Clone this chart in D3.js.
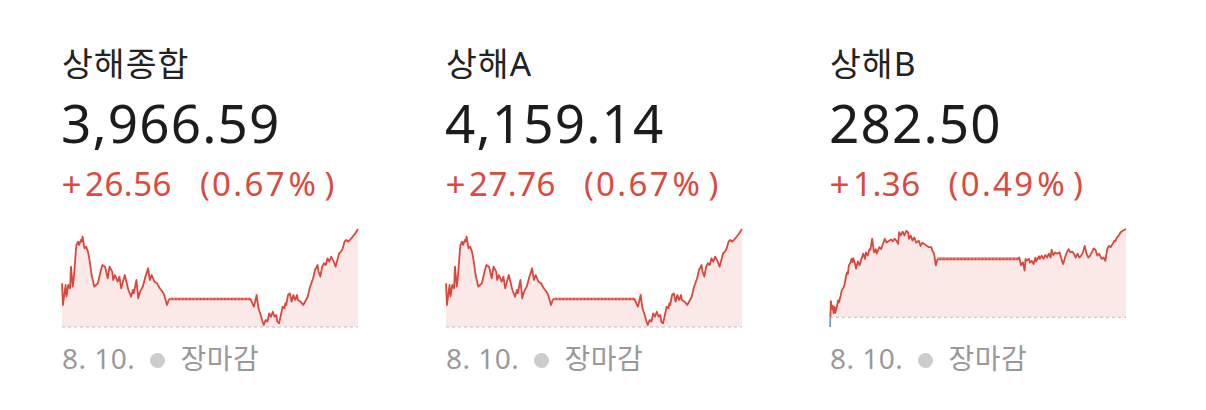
<!DOCTYPE html>
<html><head><meta charset="utf-8">
<script src="https://cdn.jsdelivr.net/npm/d3@7"></script>
<style>
html,body{margin:0;padding:0;background:#fff;}
svg{display:block;}
</style></head><body>
<svg id="chart" width="1206" height="410"></svg>
<script>
// ---------- data ----------
const titles = ["상해종합", "상해A", "상해B"];
const priceLabels = ["3,966.59", "4,159.14", "282.50"];
const changeLabels = ["+26.56", "+27.76", "+1.36"];
const changePctLabels = ["(0.67%)", "(0.67%)", "(0.49%)"];
const prevCloses = [3940.03, 4131.38, 281.14];
const dateLabel = "8. 10.";
const statusLabel = "장마감";

// intraday times shared by 상해종합 and 상해A
const timesAB = [
"09:30","09:31","09:34","09:35","09:37","09:39","09:40","09:42","09:43","09:46",
"09:48","09:49","09:51","09:52","09:53","09:55","09:57","09:59","10:01","10:03",
"10:06","10:08","10:10","10:13","10:15","10:18","10:21","10:23","10:26","10:27",
"10:29","10:32","10:34","10:36","10:40","10:44","10:47","10:49","10:50","10:53",
"10:55","10:57","11:00","11:03","11:06","11:08","11:10","11:13","11:16","11:19",
"11:22","11:24","11:27","11:29","11:30",
"13:00","13:04","13:07","13:09","13:11","13:13","13:15","13:17","13:19","13:21",
"13:23","13:25","13:27","13:29","13:30","13:32","13:34","13:36","13:38","13:39",
"13:40","13:42","13:44","13:46","13:48","13:50","13:52","13:53","13:56","13:59",
"14:02","14:04","14:06","14:08","14:10","14:12","14:15","14:16","14:18","14:20",
"14:22","14:24","14:26","14:28","14:30","14:31","14:33","14:35","14:37","14:39",
"14:41","14:43","14:45","14:47","14:49","14:51","14:54","14:57","15:00"];

const compositeValues = [
3951.87,3945.99,3951.41,3948.24,3951.41,3950.52,3956.37,3950.95,3952.77,3962.25,
3963.15,3962.25,3963.61,3963.15,3964.50,3961.36,3961.79,3960.44,3957.73,3954.12,
3950.95,3951.41,3951.87,3955.02,3956.83,3956.37,3953.23,3956.37,3955.02,3952.77,
3954.12,3952.31,3953.66,3950.52,3954.12,3950.06,3948.24,3950.06,3949.16,3952.77,
3947.81,3949.60,3950.95,3953.66,3955.94,3952.77,3954.12,3952.31,3951.87,3950.52,
3949.60,3948.70,3945.99,3947.35,3947.62,
3947.62,3945.53,3948.70,3945.10,3943.74,3941.93,3940.57,3941.93,3941.47,3943.74,
3942.82,3944.18,3942.82,3943.28,3941.47,3941.03,3943.28,3945.53,3945.10,3946.45,
3945.99,3948.70,3949.16,3946.89,3948.70,3947.35,3948.70,3947.35,3946.89,3945.99,
3947.35,3948.24,3950.52,3951.87,3953.23,3955.48,3956.83,3955.02,3953.66,3956.37,
3957.29,3956.83,3958.65,3957.73,3959.08,3958.65,3957.73,3956.37,3958.19,3960.00,
3960.44,3961.36,3963.15,3963.61,3963.15,3963.61,3964.50,3965.42,3966.59];

const aShareValues = [
4143.76,4137.61,4143.28,4139.96,4143.28,4142.34,4148.46,4142.80,4144.70,4154.61,
4155.55,4154.61,4156.03,4155.55,4156.96,4153.68,4154.13,4152.71,4149.88,4146.11,
4142.80,4143.28,4143.76,4147.05,4148.94,4148.46,4145.18,4148.46,4147.05,4144.70,
4146.11,4144.21,4145.63,4142.34,4146.11,4141.86,4139.96,4141.86,4140.93,4144.70,
4139.51,4141.38,4142.80,4145.63,4148.01,4144.70,4146.11,4144.21,4143.76,4142.34,
4141.38,4140.45,4137.61,4139.03,4139.31,
4139.31,4137.13,4140.45,4136.68,4135.26,4133.36,4131.95,4133.36,4132.88,4135.26,
4134.30,4135.71,4134.30,4134.78,4132.88,4132.43,4134.78,4137.13,4136.68,4138.09,
4137.61,4140.45,4140.93,4138.55,4140.45,4139.03,4140.45,4139.03,4138.55,4137.61,
4139.03,4139.96,4142.34,4143.76,4145.18,4147.53,4148.94,4147.05,4145.63,4148.46,
4149.43,4148.94,4150.84,4149.88,4151.30,4150.84,4149.88,4148.46,4150.36,4152.26,
4152.71,4153.68,4155.55,4156.03,4155.55,4156.03,4156.96,4157.93,4159.14];

const timesB = [
"09:30","09:31","09:32","09:33","09:34","09:35","09:36","09:38","09:39","09:40",
"09:42","09:43","09:45","09:46","09:48","09:49","09:50","09:51","09:53","09:54",
"09:55","09:56","09:58","09:59","10:01","10:03","10:05","10:07","10:09","10:10",
"10:12","10:14","10:15","10:17","10:19","10:21","10:22","10:25","10:27","10:29",
"10:31","10:33","10:36","10:38","10:40","10:42","10:44","10:46","10:47","10:49",
"10:51","10:53","10:55","10:57","10:58","11:00","11:02","11:04","11:06","11:09",
"11:11","11:13","11:15","11:18","11:20","11:23","11:24","11:26","11:28","11:30",
"13:00","13:01","13:03","13:05","13:07","13:08","13:09","13:12","13:13","13:15",
"13:17","13:19","13:20","13:23","13:24","13:26","13:28","13:30","13:32","13:34",
"13:36","13:37","13:39","13:41","13:43","13:46","13:47","13:49","13:50","13:52",
"13:54","13:56","13:58","14:00","14:02","14:04","14:06","14:08","14:10","14:12",
"14:14","14:16","14:18","14:20","14:23","14:24","14:26","14:28","14:30","14:33",
"14:35","14:37","14:39","14:41","14:43","14:45","14:47","14:48","14:50","14:52",
"14:54","14:56","15:00"];

const bShareValues = [
280.99,281.39,281.27,281.32,281.20,281.30,281.21,281.32,281.40,281.37,
281.48,281.55,281.60,281.63,281.78,281.83,281.81,281.94,281.99,282.04,
281.99,282.05,281.96,281.89,282.00,281.94,282.04,282.12,282.04,282.14,
282.09,282.19,282.18,282.35,282.14,282.19,282.12,282.22,282.19,282.27,
282.35,282.29,282.32,282.34,282.31,282.35,282.32,282.27,282.45,282.40,
282.46,282.40,282.47,282.45,282.35,282.40,282.32,282.37,282.29,282.32,
282.24,282.29,282.27,282.24,282.22,282.22,282.17,282.12,281.94,282.04,
282.04,282.06,281.94,281.99,281.86,282.04,282.01,282.04,281.98,282.01,
281.96,282.06,282.00,282.08,282.04,282.09,282.04,282.10,282.06,282.12,
282.06,282.18,282.10,282.14,282.12,282.14,282.09,281.99,281.96,282.06,
282.14,282.19,282.14,282.15,282.12,282.06,282.12,282.06,282.09,282.14,
282.24,282.12,282.06,282.09,282.17,282.20,282.18,282.09,282.12,282.04,
282.06,282.01,282.19,282.24,282.22,282.27,282.32,282.31,282.37,282.40,
282.45,282.47,282.50];

const seriesTimes = [timesAB, timesAB, timesB];
const seriesValues = [compositeValues, aShareValues, bShareValues];

// ---------- layout / style ----------
const colLeft = [62, 446, 830];
const plotW = 296, plotTop = 229, plotBottom = 327;
const upColor = "#d9483d", upFill = "#fbe9e7";
const downColor = "#6f9be0", downFill = "#e6eefb";
const font = "'Noto Sans', 'Noto Sans CJK KR', sans-serif";

const svg = d3.select("#chart");
const toMin = s => { const [h, m] = s.split(":").map(Number); return h * 60 + m - 570; };
const x = d3.scaleLinear().domain([0, 330]).range([0, plotW]);

titles.forEach((title, i) => {
  const g = svg.append("g").attr("transform", `translate(${colLeft[i]},0)`);

  g.append("text").attr("x", 0).attr("y", 75.5).attr("font-family", font)
    .attr("font-size", 33.5).attr("letter-spacing", 1).attr("fill", "#222").text(title);
  g.append("text").attr("x", -1).attr("y", 143).attr("font-family", font)
    .attr("font-size", 53).attr("letter-spacing", 1.15).attr("fill", "#1c1c1c").text(priceLabels[i]);

  // change line: sign, number, then percentage in parentheses
  const ch = g.append("text").attr("x", -0.5).attr("y", 196).attr("font-family", font)
    .attr("font-size", 33).attr("fill", "#d94b3f");
  const lab = changeLabels[i];
  ch.append("tspan").attr("font-size", 35).attr("dy", 0.5).text(lab[0]);
  ch.append("tspan").attr("dx", 3.5).attr("dy", -0.5).attr("letter-spacing", 0.5).text(lab.slice(1));
  const pct = changePctLabels[i];
  pct.split("").forEach((c, k) => {
    let dx = k === 0 ? 28 : 2.3;
    if (c === "%") dx = 4;
    if (c === ")") dx = 8.5;
    ch.append("tspan").attr("dx", dx).text(c);
  });

  // footer
  g.append("text").attr("x", 0).attr("y", 369).attr("font-family", font)
    .attr("font-size", 28).attr("letter-spacing", 0.5).attr("fill", "#999").text(dateLabel);
  g.append("circle").attr("cx", 95.5).attr("cy", 360.5).attr("r", 7.5).attr("fill", "#ccc");
  g.append("text").attr("x", 118.5).attr("y", 369).attr("font-family", font)
    .attr("font-size", 28).attr("letter-spacing", 0.5).attr("fill", "#999").text(statusLabel);

  // sparkline
  const pts = seriesTimes[i].map((t, j) => ({ t: toMin(t), v: seriesValues[i][j] }));
  const prev = prevCloses[i];
  const y = d3.scaleLinear()
    .domain(d3.extent([...seriesValues[i], prev]))
    .range([plotBottom, plotTop]);
  const by = y(prev);

  const idUp = `clipUp${i}`, idDn = `clipDn${i}`;
  const defs = g.append("defs");
  defs.append("clipPath").attr("id", idUp).append("rect")
    .attr("x", -2).attr("y", 0).attr("width", plotW + 4).attr("height", by);
  defs.append("clipPath").attr("id", idDn).append("rect")
    .attr("x", -2).attr("y", by).attr("width", plotW + 4).attr("height", 60);

  const area = d3.area().x(d => x(d.t)).y0(by).y1(d => y(d.v));
  const line = d3.line().x(d => x(d.t)).y(d => y(d.v));

  g.append("path").datum(pts).attr("d", area).attr("fill", upFill)
    .attr("clip-path", `url(#${idUp})`);
  g.append("path").datum(pts).attr("d", area).attr("fill", downFill)
    .attr("clip-path", `url(#${idDn})`);

  // baseline (previous close)
  g.append("line").attr("x1", 0).attr("x2", plotW).attr("y1", by).attr("y2", by)
    .attr("stroke", "#bdbdbd").attr("stroke-width", 1.2).attr("stroke-dasharray", "3,3");

  g.append("path").datum(pts).attr("d", line).attr("fill", "none")
    .attr("stroke", upColor).attr("stroke-width", 1.8).attr("stroke-linejoin", "round")
    .attr("clip-path", `url(#${idUp})`);
  g.append("path").datum(pts).attr("d", line).attr("fill", "none")
    .attr("stroke", downColor).attr("stroke-width", 1.8).attr("stroke-linejoin", "round")
    .attr("clip-path", `url(#${idDn})`);

  // lunch break segment (11:30 - 13:00)
  const lunch = pts.filter(d => d.t === 120 || d.t === 210);
  if (lunch.length === 2) {
    g.append("path").datum(lunch).attr("d", line).attr("fill", "none")
      .attr("stroke", upColor).attr("stroke-width", 2.6);
    g.append("path").datum(lunch).attr("d", line).attr("fill", "none")
      .attr("stroke", "#f4b9b3").attr("stroke-width", 0.9).attr("stroke-dasharray", "2,1.5");
  }
});
</script>
</body></html>
